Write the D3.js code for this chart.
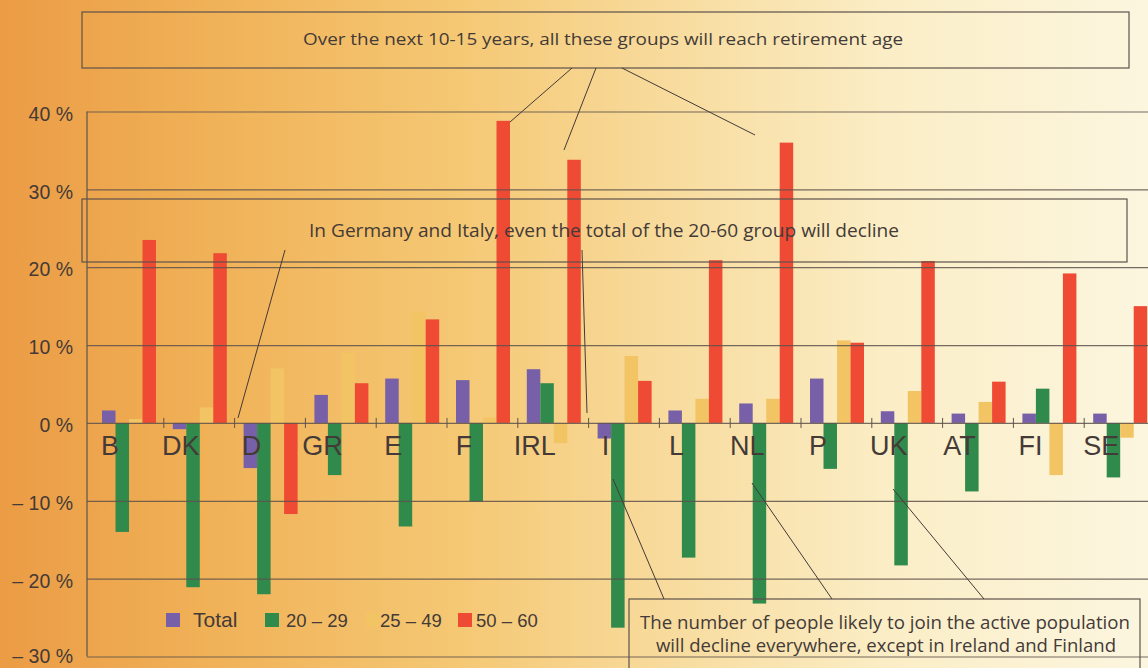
<!DOCTYPE html>
<html>
<head>
<meta charset="utf-8">
<script src="https://cdn.jsdelivr.net/npm/d3@7"></script>
<style>
  body { margin: 0; overflow: hidden; }
  svg { display: block; }
</style>
</head>
<body>
<script>
// Data
const countries = ["B", "DK", "D", "GR", "E", "F", "IRL", "I", "L", "NL", "P", "UK", "AT", "FI", "SE"];
const seriesNames = ["Total", "20 – 29", "25 – 49", "50 – 60"];
const total     = [1.6, -0.8, -5.8, 3.6, 5.7, 5.5, 6.9, -2.0, 1.6, 2.5, 5.7, 1.5, 1.2, 1.2, 1.2];
const age20to29 = [-14.0, -21.1, -22.0, -6.7, -13.3, -10.1, 5.1, -26.3, -17.3, -23.2, -5.9, -18.3, -8.8, 4.4, -7.0];
const age25to49 = [0.5, 2.0, 7.0, 9.0, 14.3, 0.7, -2.6, 8.6, 3.1, 3.1, 10.6, 4.1, 2.7, -6.7, -1.9];
const age50to60 = [23.5, 21.8, -11.7, 5.1, 13.3, 38.8, 33.8, 5.4, 20.9, 36.0, 10.3, 20.8, 5.3, 19.2, 15.0];
const yTicks = [40, 30, 20, 10, 0, -10, -20, -30];

const seriesValues = [total, age20to29, age25to49, age50to60];
const colors = ["#7860a8", "#2f8a4b", "#f3c464", "#ee4a34"];

// Chart setup
const w = 1148;
const h = 668;
const frameLeft = 87;
const ink = "#443a37";
const lineCol = "#5e524c";

const svg = d3.select("body")
    .append("svg")
    .attr("width", w)
    .attr("height", h);

// background wash, orange on the left fading to cream
const grad = svg.append("defs")
    .append("linearGradient")
    .attr("id", "bg")
    .attr("x1", "0%").attr("x2", "100%")
    .attr("y1", "0%").attr("y2", "0%");
[[0, "#eb9c45"], [0.18, "#f0b157"], [0.4, "#f5c874"], [0.6, "#f8dda1"], [0.78, "#fbeec7"], [1, "#fcf6df"]]
    .forEach(s => grad.append("stop").attr("offset", s[0]).attr("stop-color", s[1]));

svg.append("rect")
    .attr("width", w)
    .attr("height", h)
    .attr("fill", "url(#bg)");

// Scales
const y = d3.scaleLinear()
    .domain([-30, 40])
    .range([656.5, 111.5]);

const x0 = d3.scaleBand()
    .domain(countries)
    .range([93, 93 + countries.length * 70.8])
    .padding(0);

const x1 = d3.scaleBand()
    .domain(seriesNames)
    .range([9, 63])
    .padding(0);

const rows = countries.map((c, i) => ({
    country: c,
    values: seriesNames.map((s, j) => ({ key: s, value: seriesValues[j][i], color: colors[j] }))
}));

// Bars
const groups = svg.append("g")
    .selectAll("g")
    .data(rows)
    .join("g")
    .attr("transform", d => `translate(${x0(d.country)},0)`);

groups.selectAll("rect")
    .data(d => d.values)
    .join("rect")
    .attr("x", d => x1(d.key))
    .attr("width", x1.bandwidth())
    .attr("y", d => y(Math.max(0, d.value)))
    .attr("height", d => Math.abs(y(d.value) - y(0)))
    .attr("fill", d => d.color);

// Category labels
svg.append("g")
    .selectAll("text")
    .data(countries)
    .join("text")
    .attr("x", d => x0(d) + 17)
    .attr("y", y(0) + 32)
    .attr("text-anchor", "middle")
    .attr("font-family", "'Liberation Sans', Arial, sans-serif")
    .attr("font-size", 27)
    .attr("fill", ink)
    .text(d => d);

// Grid + y axis (drawn over the bars, like the print)
const fmt = v => (v < 0 ? "– " + Math.abs(v) : v) + " %";
const yAxis = d3.axisLeft(y)
    .tickValues(yTicks)
    .tickSize(-(w - frameLeft))
    .tickPadding(14)
    .tickFormat(fmt);

const gy = svg.append("g")
    .attr("transform", `translate(${frameLeft},0)`)
    .call(yAxis);
gy.select(".domain").remove();
gy.selectAll(".tick line")
    .attr("stroke", lineCol)
    .attr("stroke-width", 1.2)
    .attr("opacity", 0.85);
gy.selectAll(".tick text")
    .attr("font-family", "'Liberation Sans', Arial, sans-serif")
    .attr("font-size", 19.5)
    .attr("dy", d => d === -30 ? "0.3em" : "0.45em")
    .attr("fill", ink);

// left frame line
svg.append("line")
    .attr("x1", frameLeft).attr("x2", frameLeft)
    .attr("y1", y(40)).attr("y2", y(-30))
    .attr("stroke", lineCol)
    .attr("stroke-width", 1.2);

// small ticks between country groups
svg.append("g")
    .selectAll("line")
    .data(countries.slice(1))
    .join("line")
    .attr("x1", d => x0(d)).attr("x2", d => x0(d))
    .attr("y1", y(0) - 5).attr("y2", y(0) + 5)
    .attr("stroke", lineCol)
    .attr("stroke-width", 1);

// Legend
const legendX = [166, 265, 366, 458];
const legendTextX = [193, 286, 380, 476];
const legend = svg.append("g");
seriesNames.forEach((s, i) => {
    legend.append("rect")
        .attr("x", legendX[i])
        .attr("y", 613)
        .attr("width", 14)
        .attr("height", 14)
        .attr("fill", colors[i]);
    legend.append("text")
        .attr("x", legendTextX[i])
        .attr("y", 627)
        .attr("font-family", "'Liberation Sans', Arial, sans-serif")
        .attr("font-size", i === 0 ? 21 : 18.5)
        .attr("fill", ink)
        .text(s);
});

// Annotations
const annoFont = "'Open Sans', 'Noto Sans', sans-serif";
const boxes = [
    { x: 82, y: 12, w: 1047, h: 56 },
    { x: 82, y: 199, w: 1045, h: 63 },
    { x: 629, y: 599, w: 511, h: 100 }
];
svg.append("g")
    .selectAll("rect")
    .data(boxes)
    .join("rect")
    .attr("x", d => d.x).attr("y", d => d.y)
    .attr("width", d => d.w).attr("height", d => d.h)
    .attr("fill", "none")
    .attr("stroke", lineCol)
    .attr("stroke-width", 1.2);

const notes = [
    { t: "Over the next 10-15 years, all these groups will reach retirement age", x: 603, y: 45, size: 17, len: 600 },
    { t: "In Germany and Italy, even the total of the 20-60 group will decline", x: 604, y: 237, size: 18, len: 590 },
    { t: "The number of people likely to join the active population", x: 885, y: 629, size: 17.5, len: 490 },
    { t: "will decline everywhere, except in Ireland and Finland", x: 886, y: 652, size: 17.5, len: 460 }
];
svg.append("g")
    .selectAll("text")
    .data(notes)
    .join("text")
    .attr("x", d => d.x)
    .attr("y", d => d.y)
    .attr("text-anchor", "middle")
    .attr("font-family", annoFont)
    .attr("font-size", d => d.size)
    .attr("textLength", d => d.len)
    .attr("lengthAdjust", "spacingAndGlyphs")
    .attr("fill", ink)
    .text(d => d.t);

// leader lines from the notes to the bars
const leaders = [
    [572, 68, 510, 122],
    [596, 68, 564, 150],
    [622, 68, 755, 135],
    [285, 250, 238, 418],
    [582, 250, 587, 413],
    [613, 479, 664, 599],
    [752, 483, 832, 599],
    [893, 489, 984, 599]
];
svg.append("g")
    .selectAll("line")
    .data(leaders)
    .join("line")
    .attr("x1", d => d[0]).attr("y1", d => d[1])
    .attr("x2", d => d[2]).attr("y2", d => d[3])
    .attr("stroke", ink)
    .attr("stroke-width", 1);
</script>
</body>
</html>
